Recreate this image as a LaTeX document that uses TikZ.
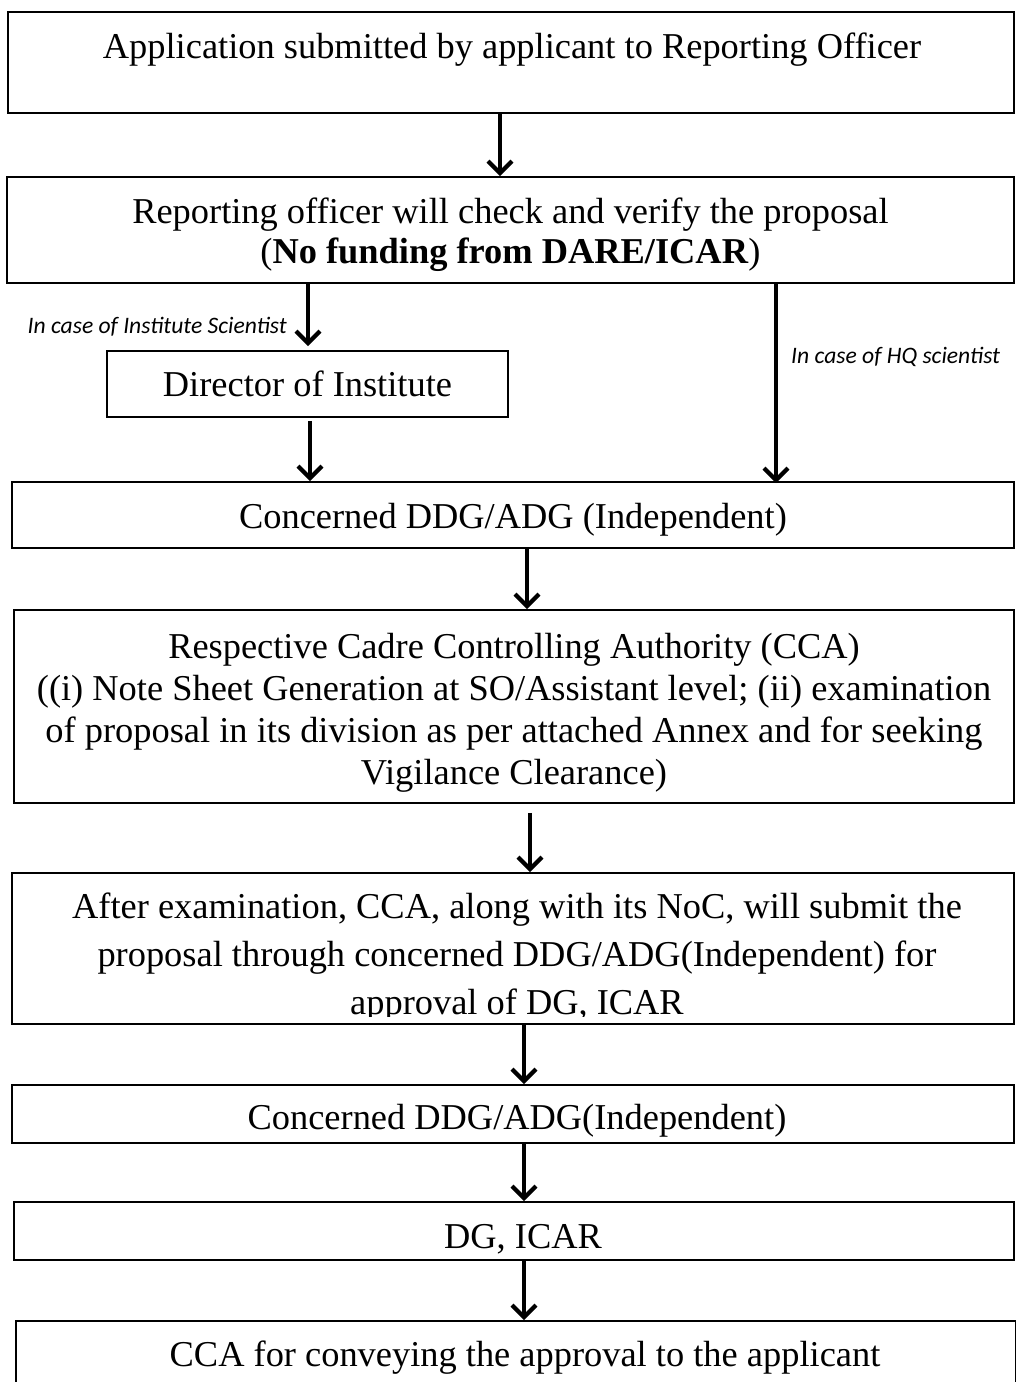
\documentclass[tikz,border=0pt]{standalone}
\usepackage{fontspec}
\setmainfont{Liberation Serif}
\newfontfamily\labfont{Carlito}
\usetikzlibrary{arrows.meta}
\begin{document}
\begin{tikzpicture}[x=1pt,y=-1pt,
  box/.style={draw, line width=1.8pt, inner sep=0pt},
  txt/.style={inner sep=0pt, align=center, font=\fontsize{36.4}{42}\selectfont},
  arr/.style={line width=3.2pt, -{Straight Barb[length=12pt,width=24pt,line width=4.2pt]}},
  lab/.style={font=\labfont\itshape\fontsize{23.6}{28}\selectfont, inner sep=0pt}]
\clip (0,0) rectangle (1016,1382);
\fill[white] (0,0) rectangle (1016,1382);

% boxes
\node[box, minimum width=1006pt, minimum height=101pt] (b1) at (511,62.5) {};
\node[txt, anchor=base] (t1) at (512,58) {Application submitted by applicant to Reporting Officer};

\node[box, minimum width=1007pt, minimum height=106pt] (b2) at (510.5,230) {};
\node[txt] (t2) at ([yshift=-5pt]b2.center)
  {Reporting officer will check and verify the proposal\\[-2pt](\textbf{No funding from DARE/ICAR})};

\node[box, minimum width=401pt, minimum height=66pt] (dir) at (307.5,384) {};
\node[txt] (tdir) at (dir.center) {Director of Institute};

\node[box, minimum width=1002pt, minimum height=66pt] (b3) at (513,515) {};
\node[txt] (t3) at ([yshift=-5pt]b3.center) {Concerned DDG/ADG (Independent)};

\node[box, minimum width=1000pt, minimum height=193pt] (b4) at (514,706.5) {};
\node[txt] (t4) at ([yshift=-6pt]b4.center)
  {Respective Cadre Controlling Authority (CCA)\\
   ((i) Note Sheet Generation at SO/Assistant level; (ii) examination\\
   of proposal in its division as per attached Annex and for seeking\\
   Vigilance Clearance)};

\node[box, minimum width=1002pt, minimum height=151pt] (b5) at (513,948.5) {};
\begin{scope}
  \clip (0,873) rectangle (1016,1016);
  \node[txt, font=\fontsize{36.4}{48}\selectfont, anchor=base] (t5) at (517,1014)
    {After examination, CCA, along with its NoC, will submit the\\
     proposal through concerned DDG/ADG(Independent) for\\
     approval of DG, ICAR};
\end{scope}

\node[box, minimum width=1002pt, minimum height=58pt] (b6) at (513,1114) {};
\node[txt] (t6) at ([xshift=4pt,yshift=-7pt]b6.center) {Concerned DDG/ADG(Independent)};
\node[box, minimum width=1000pt, minimum height=58pt] (b7) at (514,1231) {};
\node[txt] (t7) at ([xshift=9pt,yshift=-8pt]b7.center) {DG, ICAR};
\node[box, minimum width=1000pt, minimum height=74pt] (b8) at (516,1358) {};
\node[txt] (t8) at ([xshift=9pt]b8.center) {CCA for conveying the approval to the applicant};

% labels
\node[lab, anchor=east] (l1) at (287,327) {In case of Institute Scientist};
\node[lab, anchor=west] (l2) at (791,357) {In case of HQ scientist};

% arrow columns
\coordinate (xa) at (500,0);
\coordinate (xl) at (308,0);
\coordinate (xd) at (310,0);
\coordinate (xr) at (776,0);
\coordinate (x4) at (527,0);
\coordinate (x5) at (530,0);
\coordinate (x6) at (524,0);

\draw[arr] (b1.south -| xa) -- (b2.north -| xa);
\draw[arr] (b2.south -| xl) -- ([yshift=4pt]dir.north -| xl);
\draw[arr] (dir.south -| xd) ++(0,3) -- (b3.north -| xd);
\draw[arr] (b2.south -| xr) -- ([yshift=-2pt]b3.north -| xr);
\draw[arr] (b3.south -| x4) -- (b4.north -| x4);
\draw[arr] (b4.south -| x5) ++(0,9) -- (b5.north -| x5);
\draw[arr] (b5.south -| x6) -- (b6.north -| x6);
\draw[arr] (b6.south -| x6) -- (b7.north -| x6);
\draw[arr] (b7.south -| x6) -- (b8.north -| x6);
\end{tikzpicture}
\end{document}
